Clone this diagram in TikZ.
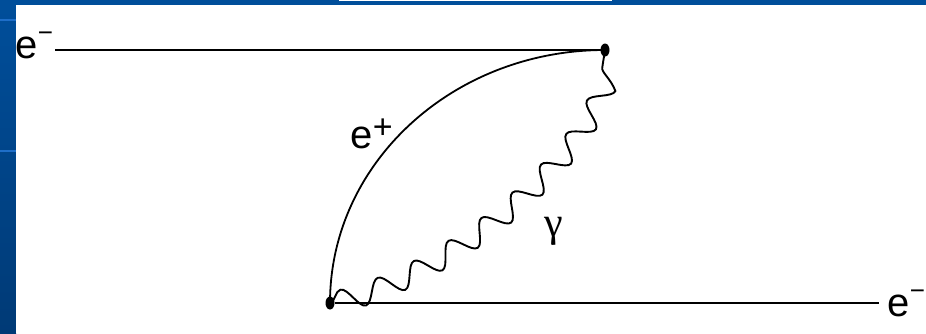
\documentclass[tikz,border=0pt]{standalone}
\usepackage{fontspec}
\setmainfont{Liberation Sans}
\newfontfamily\greekfont{Liberation Serif}
\usepackage{xcolor}
\usetikzlibrary{shapes.geometric, decorations.pathmorphing}
\definecolor{slideblue}{RGB}{0,78,154}
\definecolor{slidedark}{RGB}{0,58,118}
\definecolor{slideline}{RGB}{30,110,200}
\newcommand{\elec}{e\raisebox{17pt}{\fontsize{26}{26}\selectfont −}}
\newcommand{\posi}{e\raisebox{10pt}{\fontsize{34}{34}\selectfont +}}
\tikzstyle{vertex} = [ellipse, fill=black, inner sep=0pt, minimum width=9pt, minimum height=13pt]
\tikzstyle{fermion} = [line width=2.1pt]
\tikzstyle{photon} = [line width=1.9pt, decorate, decoration={snake, amplitude=11pt, segment length=41pt}]
\tikzstyle{partlabel} = [inner sep=0pt, anchor=base west, font=\fontsize{40}{40}\selectfont]
\begin{document}
\begin{tikzpicture}[x=1pt, y=-1pt]
    % Slide background
    \fill[slideblue] (0,0) rectangle (926,333);
    \shade[top color=slideblue, bottom color=slidedark] (0,5) rectangle (16,333);
    \fill[white] (16,5) rectangle (926,333);
    \fill[white] (339,0) rectangle (612,1.3);
    \fill[slideline] (0,19) rectangle (16,21);
    \fill[slideline] (0,150) rectangle (16,152);
    \useasboundingbox (0,0) rectangle (926,333);

    % Vertices and free ends
    \node[vertex] (v1) at (605,50) {};
    \node[vertex] (v2) at (330,303) {};
    \coordinate (ein) at (55,50);
    \coordinate (eout) at (879,303);

    % Particle labels
    \node[partlabel] (lin) at (15.5,58) {\elec};
    \node[partlabel] (lout) at (887.5,316) {\elec};
    \node[partlabel] (lpos) at (350.5,148) {\posi};
    \node[partlabel, anchor=base, font=\fontsize{42}{42}\selectfont\greekfont] (lgam) at (553.5,236) {γ};

    % Electron lines
    \draw[fermion] (ein) -- (v1);
    \draw[fermion] (v2) -- (eout);

    % Positron and photon
    \draw[fermion, line width=1.8pt] (v2.center) .. controls +(0,-140) and +(-152,0) .. (v1.center);
    \draw[photon] (v2.center) .. controls +(90,-18) and +(-15,120) .. (v1.center);
\end{tikzpicture}
\end{document}
